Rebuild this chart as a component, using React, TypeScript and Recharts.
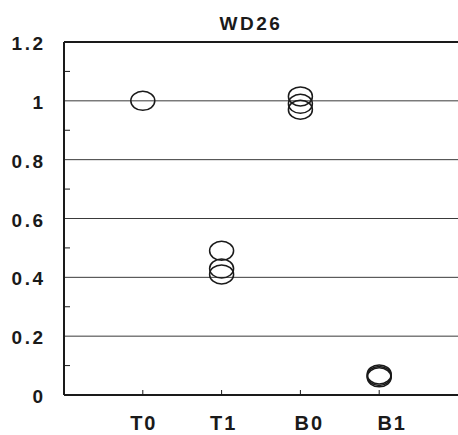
import React from "react";
import { ScatterChart, Scatter, XAxis, YAxis, CartesianGrid, ReferenceLine } from "recharts";

const categories = ["T0", "T1", "B0", "B1"];
const t0Values = [1.0];
const t1Values = [0.49, 0.43, 0.41];
const b0Values = [1.015, 0.99, 0.97];
const b1Values = [0.07, 0.065, 0.06];
const yTicks = [0, 0.1, 0.2, 0.3, 0.4, 0.5, 0.6, 0.7, 0.8, 0.9, 1.0, 1.1, 1.2];
const yLabels = ["0", "", "0.2", "", "0.4", "", "0.6", "", "0.8", "", "1", "", "1.2"];
const gridValues = [0.2, 0.4, 0.6, 0.8, 1.0];
const title = "WD26";

const seriesValues = [t0Values, t1Values, b0Values, b1Values];
const points = seriesValues.flatMap((vals, i) => vals.map((v) => ({ x: i + 1, y: v })));

const FONT = "'Liberation Sans', Arial, sans-serif";
const INK = "#1a1a1a";
// tickSize + tickMargin: distance between axis line and the tick's x/y
const OFF = 8;
// the original's category labels drift right of their ticks
const labelNudge = [0, 1, 8, 12];

const Ring = (props: any) => {
  const { cx, cy } = props;
  return <ellipse cx={cx} cy={cy} rx={12} ry={9.5} fill="none" stroke={INK} strokeWidth={1.5} />;
};

const YTick = (props: any) => {
  const { x, y, index } = props;
  const axisX = x + OFF;
  const label = yLabels[index];
  if (!label) {
    return <line x1={axisX} y1={y} x2={axisX + 6} y2={y} stroke={INK} strokeWidth={1} />;
  }
  return (
    <text
      x={axisX - 18.5}
      y={y + 8}
      textAnchor="end"
      fill={INK}
      fontFamily={FONT}
      fontWeight="bold"
      fontSize={19}
      letterSpacing={2.5}
    >
      {label}
    </text>
  );
};

const XTick = (props: any) => {
  const { x, y, payload } = props;
  const axisY = y - OFF;
  const i = payload.value - 1;
  return (
    <g>
      <line x1={x} y1={axisY} x2={x} y2={axisY - 5} stroke={INK} strokeWidth={1} />
      <text
        x={x + 1 + labelNudge[i]}
        y={axisY + 35}
        textAnchor="middle"
        fill={INK}
        fontFamily={FONT}
        fontWeight="bold"
        fontSize={20}
        letterSpacing={2}
      >
        {categories[i]}
      </text>
    </g>
  );
};

export default function App() {
  return (
    <div
      style={{
        position: "fixed",
        left: 0,
        top: 0,
        width: 458,
        height: 435,
        overflow: "hidden",
        background: "#fff",
      }}
    >
      <div
        style={{
          position: "absolute",
          left: 0,
          top: 14,
          width: 502,
          textAlign: "center",
          fontFamily: FONT,
          fontWeight: "bold",
          fontSize: 19,
          lineHeight: "19px",
          letterSpacing: 2.5,
          color: INK,
        }}
      >
        {title}
      </div>
      <ScatterChart width={458} height={435} margin={{ top: 42, right: 0, left: 0, bottom: 0 }}>
        <CartesianGrid
          horizontal
          vertical={false}
          horizontalValues={gridValues}
          stroke="#3a3a3a"
          strokeWidth={1}
        />
        <ReferenceLine y={1.2} stroke={INK} strokeWidth={2} />
        <XAxis
          type="number"
          dataKey="x"
          domain={[0, 5]}
          ticks={[1, 2, 3, 4]}
          height={40}
          tickSize={6}
          tickMargin={2}
          tick={<XTick />}
          axisLine={{ stroke: INK, strokeWidth: 2 }}
          tickLine={false}
          allowDecimals={false}
        />
        <YAxis
          type="number"
          dataKey="y"
          domain={[0, 1.2]}
          ticks={yTicks}
          interval={0}
          width={64}
          tickSize={6}
          tickMargin={2}
          tick={<YTick />}
          axisLine={{ stroke: INK, strokeWidth: 2 }}
          tickLine={false}
        />
        <Scatter data={points} shape={<Ring />} isAnimationActive={false} />
      </ScatterChart>
    </div>
  );
}
